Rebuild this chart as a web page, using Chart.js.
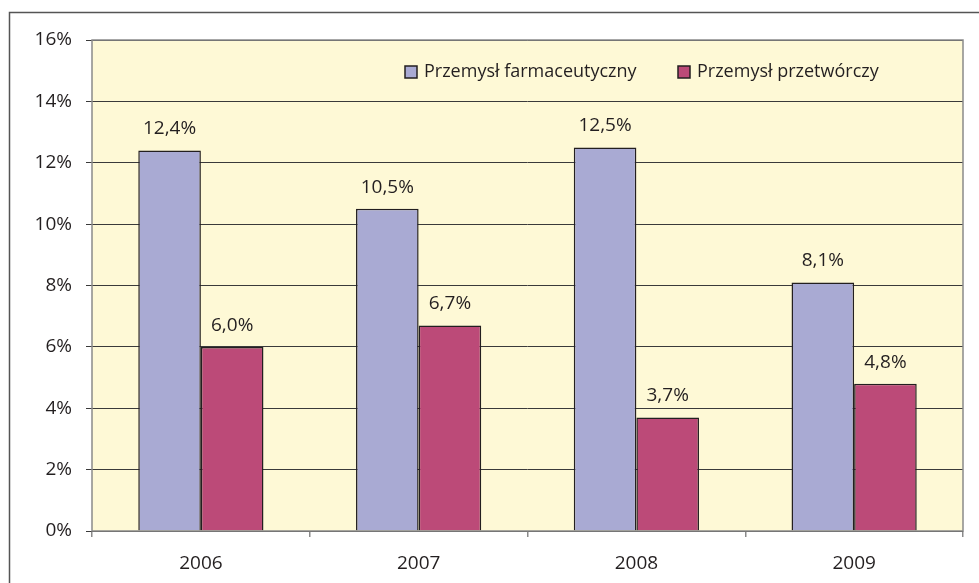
<!DOCTYPE html>
<html><head><meta charset="utf-8">
<script src="https://cdn.jsdelivr.net/npm/chart.js@4/dist/chart.umd.min.js"></script>
<style>html,body{margin:0;padding:0;background:#fff}#w{width:979px;height:583px}</style>
</head><body><div id="w"><canvas id="c" width="979" height="583"></canvas></div>
<script>
const categories = ['2006', '2007', '2008', '2009'];
const pharmaValues = [12.4, 10.5, 12.5, 8.1];
const manufValues = [6.0, 6.7, 3.7, 4.8];
const seriesNames = ['Przemysł farmaceutyczny', 'Przemysł przetwórczy'];
const yTicks = [0, 2, 4, 6, 8, 10, 12, 14, 16];

const FONT = '"Open Sans", Lato, sans-serif';
const fmt = v => v.toFixed(1).replace('.', ',') + '%';

const framePlugin = {
  id: 'frame',
  beforeDraw(chart) {
    const {ctx, chartArea: a} = chart;
    ctx.save();
    ctx.fillStyle = '#fff';
    ctx.fillRect(0, 0, chart.width, chart.height);
    ctx.strokeStyle = '#555';
    ctx.lineWidth = 1.5;
    ctx.beginPath();
    ctx.moveTo(9.5, chart.height);
    ctx.lineTo(9.5, 12.5);
    ctx.lineTo(chart.width, 12.5);
    ctx.stroke();
    ctx.fillStyle = '#FEF9D6';
    ctx.fillRect(a.left, a.top, a.right - a.left, a.bottom - a.top);
    ctx.restore();
  },
  afterDatasetsDraw(chart) {
    const {ctx, chartArea: a} = chart;
    ctx.save();
    ctx.strokeStyle = '#8a8a8a';
    ctx.lineWidth = 1.5;
    ctx.strokeRect(a.left, a.top, a.right - a.left, a.bottom - a.top);
    // value labels
    ctx.fillStyle = '#231f20';
    ctx.font = '19px ' + FONT;
    ctx.textAlign = 'center';
    ctx.textBaseline = 'alphabetic';
    chart.data.datasets.forEach((ds, i) => {
      chart.getDatasetMeta(i).data.forEach((bar, j) => {
        ctx.fillText(fmt(ds.data[j]), bar.x, bar.y - 16);
      });
    });
    // legend
    ctx.font = '18px ' + FONT;
    ctx.textAlign = 'left';
    ctx.textBaseline = 'middle';
    const items = [{x: 405}, {x: 678}];
    chart.data.datasets.forEach((ds, i) => {
      const x = items[i].x, y = 72;
      ctx.fillStyle = ds.backgroundColor;
      ctx.fillRect(x, y - 6, 12, 12);
      ctx.strokeStyle = '#231f20';
      ctx.lineWidth = 1.5;
      ctx.strokeRect(x, y - 6, 12, 12);
      ctx.fillStyle = '#231f20';
      ctx.fillText(ds.label, x + 19, y);
    });
    ctx.restore();
  }
};

new Chart(document.getElementById('c'), {
  type: 'bar',
  data: {
    labels: categories,
    datasets: [
      {label: seriesNames[0], data: pharmaValues, backgroundColor: '#A9AAD3', borderColor: '#231f20', borderWidth: 1.5},
      {label: seriesNames[1], data: manufValues, backgroundColor: '#BC4A78', borderColor: '#231f20', borderWidth: 1.5}
    ]
  },
  options: {
    responsive: false,
    animation: false,
    devicePixelRatio: 1,
    layout: {padding: {left: 0, top: 40, right: 16, bottom: 0}},
    datasets: {bar: {categoryPercentage: 0.575, barPercentage: 1}},
    plugins: {legend: {display: false}, tooltip: {enabled: false}},
    scales: {
      x: {
        afterFit: s => { s.height = 52; },
        grid: {drawOnChartArea: false, drawTicks: true, tickLength: 6, color: '#8a8a8a', lineWidth: 1.5, offset: true},
        border: {display: false},
        ticks: {color: '#231f20', font: {family: FONT, size: 19}, padding: 15}
      },
      y: {
        min: 0, max: 16,
        afterBuildTicks: s => { s.ticks = yTicks.map(v => ({value: v})); },
        afterFit: s => { s.width = 92; },
        grid: {color: '#3a3a3a', lineWidth: 1, tickLength: 6, tickColor: '#3a3a3a'},
        border: {display: false},
        ticks: {color: '#231f20', font: {family: FONT, size: 19}, padding: 14, callback: v => v + '%'}
      }
    }
  },
  plugins: [framePlugin]
});
</script></body></html>
